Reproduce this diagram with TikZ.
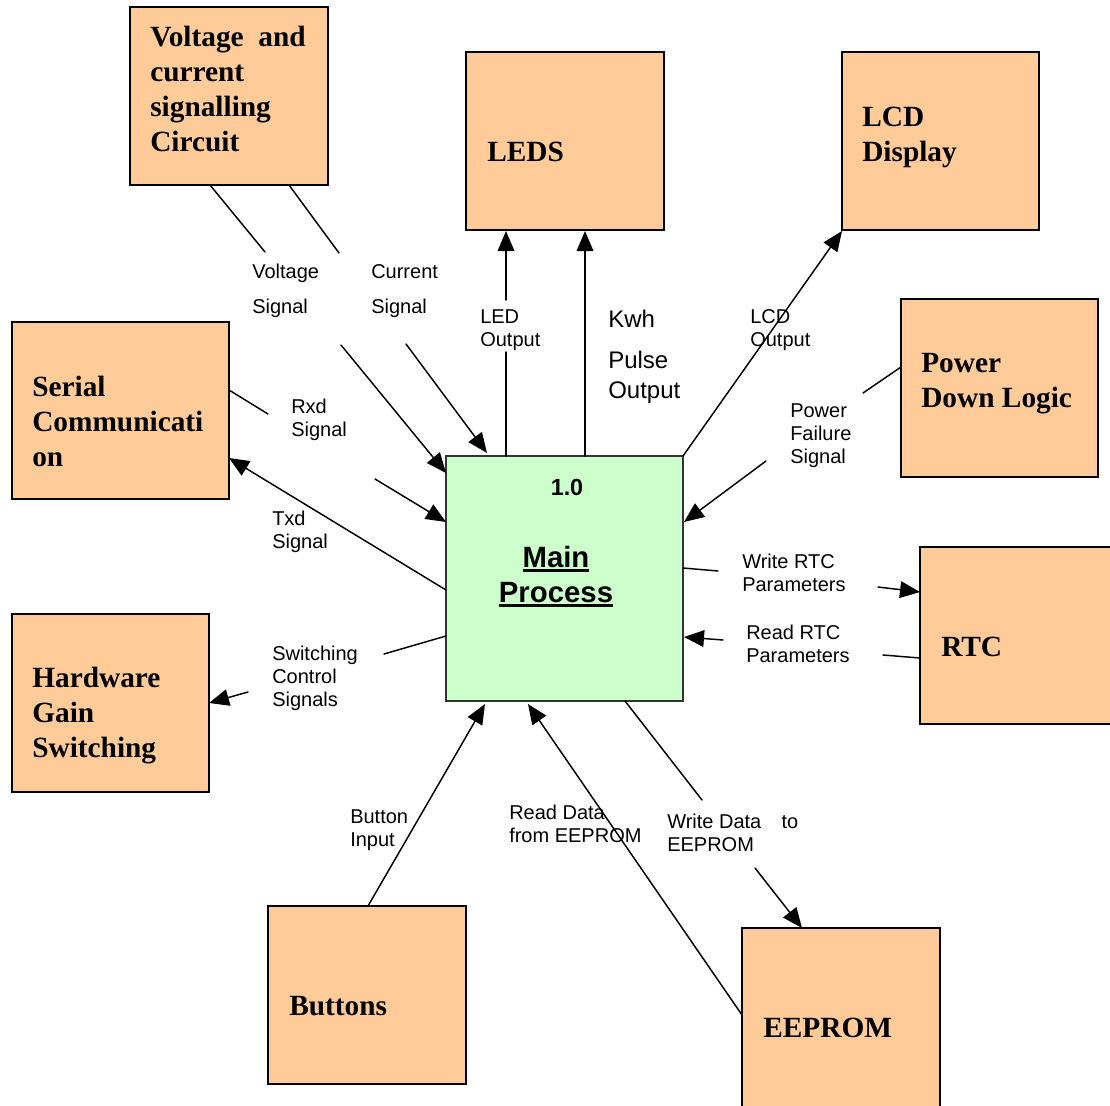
\documentclass[tikz,border=0pt]{standalone}
\usepackage{fontspec}
\setmainfont{Liberation Serif}
\setsansfont{Liberation Sans}
\usetikzlibrary{arrows.meta,calc}
\definecolor{boxorange}{HTML}{FFCC99}
\definecolor{boxgreen}{HTML}{CCFFCC}
% thick underline used in the process box
\newcommand\thickul[1]{\setbox0\hbox{#1}\rlap{\rule[-4pt]{\wd0}{2.2pt}}\box0}

\begin{document}
\begin{tikzpicture}[x=0.75pt,y=-0.75pt,
  obox/.style={draw=black,line width=1.3pt,fill=boxorange,inner sep=0pt,outer sep=0pt,anchor=north west},
  pbox/.style={draw=black!80,line width=1.2pt,fill=boxgreen,inner sep=0pt,outer sep=0pt,anchor=north west},
  btxt/.style={font=\fontsize{22}{26.25}\selectfont\rmfamily\bfseries,align=left,inner sep=0pt,anchor=west},
  lbl/.style={font=\fontsize{15}{17.25}\selectfont\sffamily,align=left,inner sep=0pt,anchor=west},
  wlbl/.style={font=\fontsize{15}{26.25}\selectfont\sffamily,align=left,inner sep=0pt,anchor=west},
  conn/.style={line width=1.1pt,line cap=round},
  arr/.style={-{Triangle[length=15pt,width=12.5pt]}}
]
\useasboundingbox (0,0) rectangle (1110,1106);

% ---------- blocks ----------
\node[obox,minimum width=198*0.75pt,minimum height=178*0.75pt] (volt)   at (130,7)   {};
\node[obox,minimum width=198*0.75pt,minimum height=178*0.75pt] (leds)   at (466,52)  {};
\node[obox,minimum width=197*0.75pt,minimum height=178*0.75pt] (lcd)    at (842,52)  {};
\node[obox,minimum width=217*0.75pt,minimum height=177*0.75pt] (serial) at (12,322)  {};
\node[obox,minimum width=197*0.75pt,minimum height=178*0.75pt] (power)  at (901,299) {};
\node[obox,minimum width=220*0.75pt,minimum height=177*0.75pt] (rtc)    at (920,547) {};
\node[obox,minimum width=197*0.75pt,minimum height=178*0.75pt] (hw)     at (12,614)  {};
\node[obox,minimum width=198*0.75pt,minimum height=178*0.75pt] (btn)    at (268,906) {};
\node[obox,minimum width=198*0.75pt,minimum height=200*0.75pt] (eeprom) at (742,928) {};
\node[pbox,minimum width=237*0.75pt,minimum height=245*0.75pt] (mainp)  at (446,456) {};

% ---------- block titles ----------
\node[btxt] (voltT)   at (150,89)  {Voltage~ and\\current\\signalling\\Circuit};
\node[btxt] (ledsT)   at (487,152) {LEDS};
\node[btxt] (lcdT)    at (862,137) {LCD\\Display};
\node[btxt] (serialT) at (32,421)  {Serial\\Communicati\\on};
\node[btxt] (powerT)  at (921,384) {Power\\Down Logic};
\node[btxt] (rtcT)    at (941,647) {RTC};
\node[btxt] (hwT)     at (32,716)  {Hardware\\Gain\\Switching};
\node[btxt] (btnT)    at (289,1006){Buttons};
\node[btxt] (eepromT) at (763,1028){EEPROM};

\node[font=\fontsize{17.5}{20}\selectfont\sffamily\bfseries,inner sep=0pt,anchor=base] (pnum) at (567,495) {1.0};
\node[font=\fontsize{22}{26}\selectfont\sffamily\bfseries,inner sep=0pt,anchor=base] (pmain) at (556,567) {\thickul{Main}};
\node[font=\fontsize{22}{26}\selectfont\sffamily\bfseries,inner sep=0pt,anchor=base] (pproc) at (556,602) {\thickul{Process}};

% ---------- flow labels ----------
\node[wlbl] (lV)   at (252,291) {Voltage\\Signal};
\node[wlbl] (lC)   at (371,291) {Current\\Signal};
\node[lbl]  (lLED) at (480,330) {LED\\Output};
\node[font=\fontsize{18}{22}\selectfont\sffamily,inner sep=0pt,anchor=west] (lK) at (608,319) {Kwh};
\node[font=\fontsize{18}{22.5}\selectfont\sffamily,align=left,inner sep=0pt,anchor=west] (lP) at (608,377) {Pulse\\Output};
\node[lbl]  (lLCD) at (750,330) {LCD\\Output};
\node[lbl]  (lR)   at (291,420) {Rxd\\Signal};
\node[lbl]  (lPF)  at (790,436) {Power\\Failure\\Signal};
\node[lbl]  (lT)   at (272,532) {Txd\\Signal};
\node[lbl]  (lWR)  at (742,573) {Write RTC\\Parameters};
\node[lbl]  (lRR)  at (746,644) {Read RTC\\Parameters};
\node[lbl]  (lS)   at (272,678) {Switching\\Control\\Signals};
\node[lbl]  (lB)   at (350,830) {Button\\Input};
\node[lbl]  (lRD)  at (509,824) {Read Data\\from EEPROM};
\node[lbl]  (lWD)  at (667,833) {Write Data\hspace{11pt} to\\EEPROM};

% ---------- break points of the interrupted flows ----------
\coordinate (vA) at (265,252);  \coordinate (vB) at (341,345);
\coordinate (cA) at (339,253);  \coordinate (cB) at (406,344);
\coordinate (rA) at (268,414);  \coordinate (rB) at (375,479);
\coordinate (sA) at (384,654);  \coordinate (sB) at (248,692);
\coordinate (wA) at (702,800);  \coordinate (wB) at (755,868);
\coordinate (eA) at (506,352);  \coordinate (eB) at (506,300);
\coordinate (pA) at (863,393);  \coordinate (pB) at (766,461);
\coordinate (tA) at (718,571);  \coordinate (tB) at (878,587);
\coordinate (qA) at (883,655);  \coordinate (qB) at (723,640);

% ---------- flows ----------
% voltage and current signals
\draw[conn] ($(volt.south west)+(80,0)$) -- (vA);
\draw[conn,arr] (vB) -- ($(mainp.north west)+(0,17)$);
\draw[conn] ($(volt.south west)+(159,0)$) -- (cA);
\draw[conn,arr] (cB) -- ($(mainp.north west)+(41,-3)$);
% serial link
\draw[conn] ($(serial.north east)+(0,68)$) -- (rA);
\draw[conn,arr] (rB) -- ($(mainp.north west)+(0,66)$);
\draw[conn,arr] ($(mainp.north west)+(0,134)$) -- ($(serial.north east)+(0,136)$);
% gain switching
\draw[conn] ($(mainp.north west)+(0,180)$) -- (sA);
\draw[conn,arr] (sB) -- ($(hw.north east)+(0,89)$);
% buttons and EEPROM
\draw[conn,arr] ($(btn.north west)+(100,0)$) -- ($(mainp.south west)+(39,3)$);
\draw[conn,arr] ($(eeprom.north west)+(0,87)$) -- ($(mainp.south west)+(82,3)$);
\draw[conn] ($(mainp.south west)+(179,0)$) -- (wA);
\draw[conn,arr] (wB) -- ($(eeprom.north west)+(60,0)$);
% outputs
\draw[conn] ($(mainp.north west)+(60,0)$) -- (eA);
\draw[conn,arr] (eB) -- ($(leds.south west)+(40,1)$);
\draw[conn,arr] ($(mainp.north west)+(139,0)$) -- ($(leds.south west)+(119,1)$);
\draw[conn,arr] (mainp.north east) -- ($(lcd.south west)+(0,1)$);
% power failure
\draw[conn] ($(power.north west)+(0,68)$) -- (pA);
\draw[conn,arr] (pB) -- ($(mainp.north east)+(1,66)$);
% real time clock
\draw[conn] ($(mainp.north east)+(0,112)$) -- (tA);
\draw[conn,arr] (tB) -- ($(rtc.north west)+(0,45)$);
\draw[conn] ($(rtc.north west)+(0,111)$) -- (qA);
\draw[conn,arr] (qB) -- ($(mainp.north east)+(1,181)$);
\end{tikzpicture}
\end{document}
